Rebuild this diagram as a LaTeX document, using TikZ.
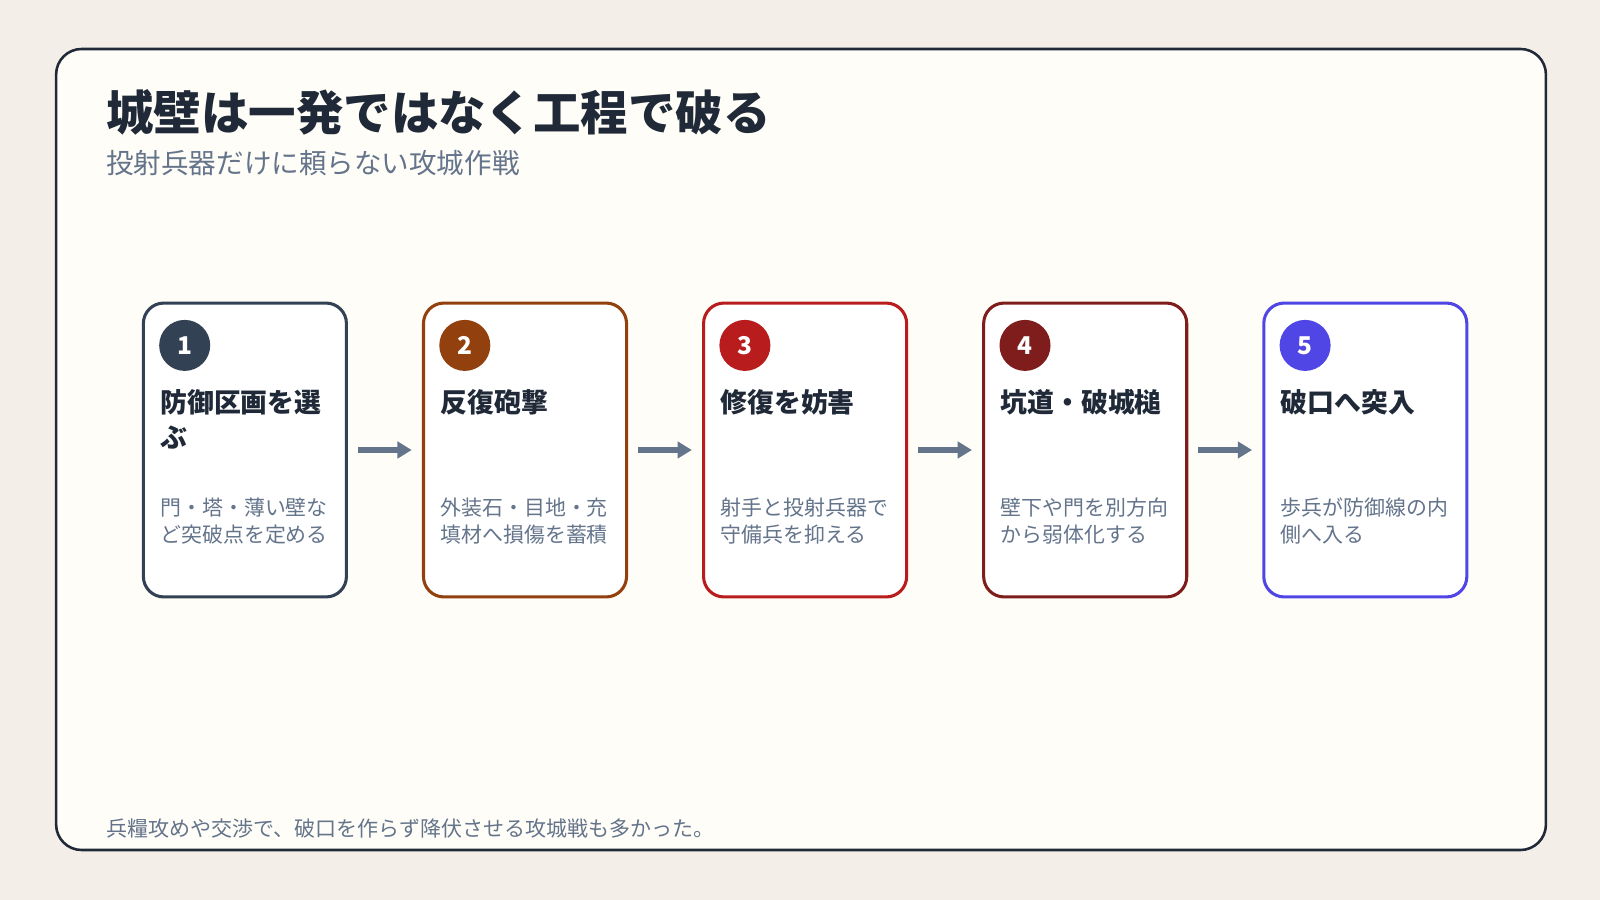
\documentclass[tikz,border=0pt]{standalone}
\usepackage{fontspec}
\setmainfont{Noto Sans CJK JP}
\usepackage{tikz}
\usetikzlibrary{arrows.meta,positioning,calc}
\definecolor{paper}{HTML}{F3EFE8}
\definecolor{sheet}{HTML}{FFFDF7}
\definecolor{ink}{HTML}{1F2937}
\definecolor{muted}{HTML}{64748B}
\definecolor{slate}{HTML}{334155}
\definecolor{rust}{HTML}{92400E}
\definecolor{crimson}{HTML}{B91C1C}
\definecolor{maroon}{HTML}{7F1D1D}
\definecolor{indigo}{HTML}{4F46E5}
\tikzset{
  every picture/.style = {
    x = 1pt, y = -1pt,
    node distance = 0pt and 72.5pt,
  }
  ,
  card/.style = {
    rectangle,
    rounded corners = 20pt,
    draw = #1,
    line width = 3pt,
    fill = white,
    minimum width = 199pt,
    minimum height = 288pt
  }
  , % numbered badges
  badge/.style = {
    circle,
    fill = #1,
    minimum size = 50pt,
    inner sep = 0pt,
    text = white,
    font = \fontsize{24}{24}\selectfont\bfseries
  }
  , % card titles
  head/.style = {
    anchor = north west,
    inner sep = 0pt,
    align = left,
    text = ink,
    font = \fontsize{26.3}{34}\selectfont\bfseries
  }
  , % card texts
  desc/.style = {
    anchor = north west,
    inner sep = 0pt,
    align = left,
    text = muted,
    font = \fontsize{20.5}{27}\selectfont
  }
  ,
  flow/.style = {
    draw = muted,
    line width = 5pt,
    -{Triangle[length=14pt,width=16pt]},
    shorten < = 10pt,
    shorten > = 10pt
  }
}
\begin{document}
\begin{tikzpicture}
\fill[paper] (0,0) rectangle (1568,882);
\draw[ink, line width=2.5pt, fill=sheet, rounded corners=25pt] (55,48) rectangle (1515,833);

\node[anchor=base west, inner sep=0pt, text=ink, font=\fontsize{46.5}{46.5}\selectfont\bfseries] (title) at (104,128) {城壁は一発ではなく工程で破る};
\node[anchor=base west, inner sep=0pt, text=muted, font=\fontsize{27}{27}\selectfont] (subtitle) at (104,170) {投射兵器だけに頼らない攻城作戦};

\node[card=slate] (c1) at (240,441) {};
\node[card=rust, right = of c1] (c2) {};
\node[card=crimson, right = of c2] (c3) {};
\node[card=maroon, right = of c3] (c4) {};
\node[card=indigo, right = of c4] (c5) {};

\node[badge=slate] (b1) at ($(c1.north west)+(42,43)$) {1};
\node[badge=rust] (b2) at ($(c2.north west)+(42,43)$) {2};
\node[badge=crimson] (b3) at ($(c3.north west)+(42,43)$) {3};
\node[badge=maroon] (b4) at ($(c4.north west)+(42,43)$) {4};
\node[badge=indigo] (b5) at ($(c5.north west)+(42,43)$) {5};

\node[head] (h1) at ($(c1.north west)+(18,86)$) {防御区画を選\\ぶ};
\node[head] (h2) at ($(c2.north west)+(18,86)$) {反復砲撃};
\node[head] (h3) at ($(c3.north west)+(18,86)$) {修復を妨害};
\node[head] (h4) at ($(c4.north west)+(18,86)$) {坑道・破城槌};
\node[head] (h5) at ($(c5.north west)+(18,86)$) {破口へ突入};

\node[desc] (d1) at ($(c1.north west)+(18,192)$) {門・塔・薄い壁な\\ど突破点を定める};
\node[desc] (d2) at ($(c2.north west)+(18,192)$) {外装石・目地・充\\填材へ損傷を蓄積};
\node[desc] (d3) at ($(c3.north west)+(18,192)$) {射手と投射兵器で\\守備兵を抑える};
\node[desc] (d4) at ($(c4.north west)+(18,192)$) {壁下や門を別方向\\から弱体化する};
\node[desc] (d5) at ($(c5.north west)+(18,192)$) {歩兵が防御線の内\\側へ入る};

\draw[flow] (c1) -- (c2);
\draw[flow] (c2) -- (c3);
\draw[flow] (c3) -- (c4);
\draw[flow] (c4) -- (c5);

\node[anchor=base west, inner sep=0pt, text=muted, font=\fontsize{20.6}{20.6}\selectfont] (note) at (104,820) {兵糧攻めや交渉で、破口を作らず降伏させる攻城戦も多かった。};
\end{tikzpicture}
\end{document}
